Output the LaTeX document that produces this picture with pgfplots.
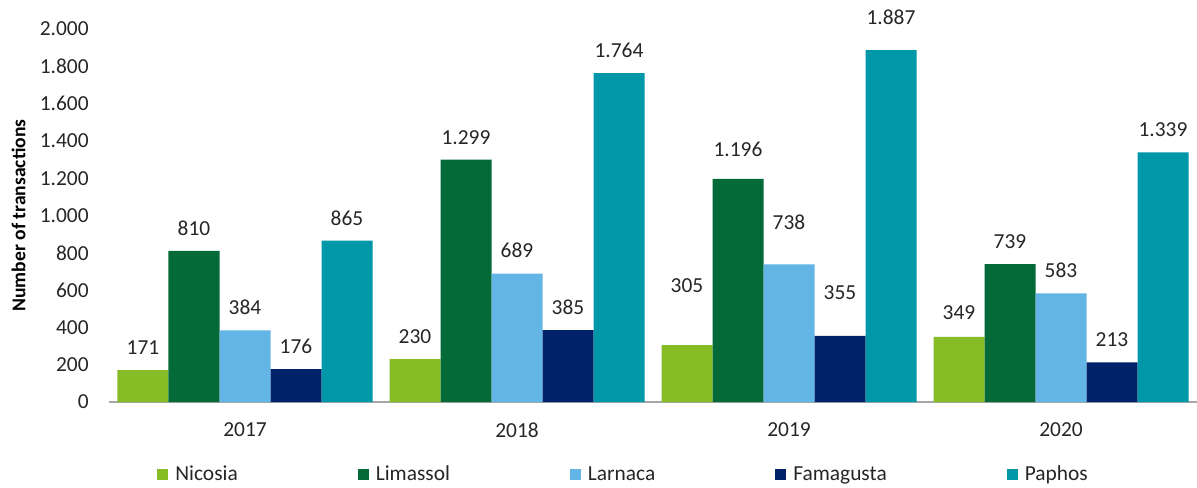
\documentclass[border=0pt]{standalone}
\usepackage{pgfplots}
\usepackage{pgfplotstable}
\pgfplotsset{compat=1.18}
\usepackage{fontspec}
\setmainfont{Carlito}
\usetikzlibrary{calc}
\definecolor{cNic}{HTML}{86BC25}
\definecolor{cLim}{HTML}{046A38}
\definecolor{cLar}{HTML}{62B5E5}
\definecolor{cFam}{HTML}{012169}
\definecolor{cPap}{HTML}{0097A9}
\definecolor{txt}{HTML}{262626}
\newcommand\f{\fontsize{10.7}{12}\selectfont}

\pgfplotstableread{
x y off
0 171 0
1 230 0
2 305 18.5
3 349 1
}\nicosia
\pgfplotstableread{
x y off
0 810 0
1 1299 0
2 1196 3.5
3 739 0
}\limassol
\pgfplotstableread{
x y off
0 384 0
1 689 0
2 738 9.5
3 583 0
}\larnaca
\pgfplotstableread{
x y off
0 176 0
1 385 0
2 355 10.5
3 213 0
}\famagusta
\pgfplotstableread{
x y off
0 865 0
1 1764 0
2 1887 5
3 1339 0
}\paphos

\pgfplotsset{
  sqlegend/.style={legend image code/.code={\fill[##1] (0pt,-2.75pt) rectangle (5.5pt,2.75pt);}},
}

\begin{document}
\begin{tikzpicture}
\begin{axis}[
  name=ax,
  scale only axis,
  width=544pt, height=186.5pt,
  ybar=0pt, bar width=25.5pt,
  xmin=-0.5, xmax=3.5,
  ymin=0, ymax=2000,
  ytick={0,200,...,2000},
  xtick={0,1,2,3},
  xticklabels={2017,2018,2019,2020},
  axis x line*=bottom, axis y line*=left,
  y axis line style={draw=none},
  x axis line style={draw=black!35, line width=0.8pt},
  tick style={draw=none},
  major tick length=0pt,
  /pgf/number format/assume math mode=true,
  /pgf/number format/1000 sep={.},
  tick label style={font=\f, text=txt},
  yticklabel style={inner sep=0pt, anchor=east, xshift=-10pt},
  xticklabel style={inner sep=0pt, anchor=north, yshift=-10pt},
  ylabel={Number of transactions},
  every axis y label/.style={at={(axis description cs:-0.0832,0.5)}, rotate=90, anchor=center, font=\fontsize{9.8}{11}\selectfont\bfseries, text=black},
  nodes near coords,
  visualization depends on={\thisrow{off}\as\off},
  every node near coord/.append style={font=\f, text=txt, inner sep=0pt, anchor=south, yshift=7.5pt+\off pt},
  legend columns=5,
  legend cell align=left,
  legend style={draw=none, fill=none, at={(axis description cs:0.0441,-0.1957)}, anchor=west, inner sep=0pt, font=\f, text=txt,
    nodes={inner sep=0pt},
    /tikz/every odd column/.append style={column sep=3.5pt},
    /tikz/every even column/.append style={column sep=60pt}},
]
\addplot[fill=cNic, draw=none, sqlegend] table[x=x,y=y] {\nicosia};
\addplot[fill=cLim, draw=none, sqlegend] table[x=x,y=y] {\limassol};
\addplot[fill=cLar, draw=none, sqlegend] table[x=x,y=y] {\larnaca};
\addplot[fill=cFam, draw=none, sqlegend] table[x=x,y=y] {\famagusta};
\addplot[fill=cPap, draw=none, sqlegend] table[x=x,y=y] {\paphos};
\legend{Nicosia,Limassol,Larnaca,Famagusta,Paphos}
\end{axis}
\pgfresetboundingbox
\path ($(ax.south west)+(-54.5pt,-42.5pt)$) rectangle ($(ax.north east)+(0pt,14.5pt)$);
\end{tikzpicture}
\end{document}
